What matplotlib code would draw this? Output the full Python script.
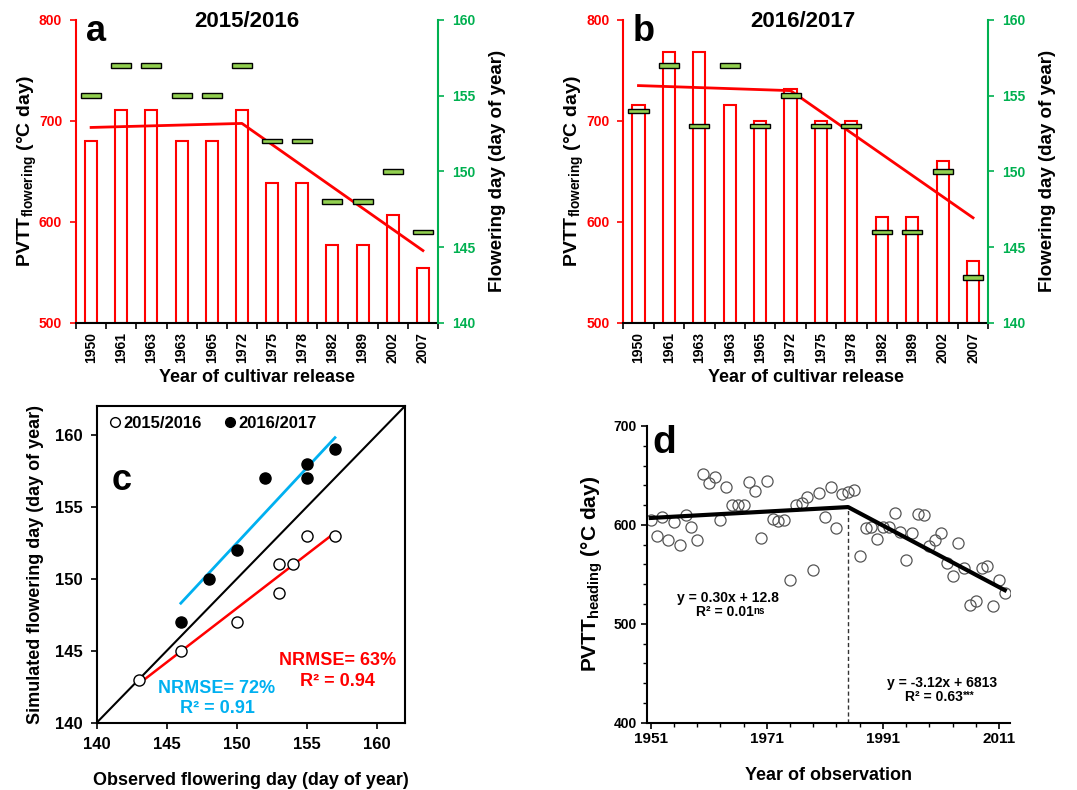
import numpy as np
import matplotlib.pyplot as plt
from matplotlib.lines import Line2D
from matplotlib.ticker import MultipleLocator

# -------------------------
# ESTILO GENERAL
# -------------------------
plt.rcParams['font.family'] = ['Liberation Sans', 'DejaVu Sans']
plt.rcParams['font.weight'] = 'bold'
plt.rcParams['axes.labelweight'] = 'bold'
plt.rcParams['mathtext.fontset'] = 'custom'
plt.rcParams['mathtext.rm'] = 'Liberation Sans'
plt.rcParams['mathtext.bf'] = 'Liberation Sans:bold'

ROJO = '#FF0000'
VERDE = '#00B050'
VERDE_CLARO = '#92D050'
AZUL = '#00B0F0'

# -------------------------
# DATOS PANELES a y b
# -------------------------
cultivares = ['1950', '1961', '1963', '1963', '1965', '1972',
              '1975', '1978', '1982', '1989', '2002', '2007']

pvtt_1516 = [680, 711, 711, 680, 680, 711, 638, 638, 577, 577, 607, 554]
floracion_1516 = [155, 157, 157, 155, 155, 157, 152, 152, 148, 148, 150, 146]
tend_idx_1516 = [0, 5, 11]
tend_val_1516 = [693.5, 697.5, 571.5]

pvtt_1617 = [716, 768, 768, 716, 700, 732, 700, 700, 605, 605, 660, 561]
floracion_1617 = [154, 157, 153, 157, 153, 155, 153, 153, 146, 146, 150, 143]
tend_idx_1617 = [0, 5, 11]
tend_val_1617 = [735, 730, 604]

# -------------------------
# DATOS PANEL c
# -------------------------
obs_1516 = [143, 146, 150, 153, 153, 154, 155, 157]
sim_1516 = [143, 145, 147, 149, 151, 151, 153, 153]
obs_1617 = [146, 148, 150, 152, 155, 155, 157]
sim_1617 = [147, 150, 152, 157, 157, 158, 159]
linea_1516_x = [143, 157]
linea_1516_y = [142.7, 153.2]
linea_1617_x = [146, 157]
linea_1617_y = [148.3, 159.8]
linea_11 = [140, 162]

# -------------------------
# DATOS PANEL d
# -------------------------
anios = list(range(1951, 2013))
pvtt_espigado = [605, 589, 608, 585, 603, 580, 610, 598, 585, 651,
                 642, 648, 605, 638, 620, 620, 620, 643, 634, 587,
                 644, 606, 604, 605, 544, 620, 622, 628, 554, 632,
                 608, 638, 597, 631, 633, 635, 569, 597, 598, 586,
                 598, 598, 612, 593, 564, 592, 611, 610, 579, 585,
                 592, 561, 548, 582, 556, 519, 523, 556, 558, 518,
                 544, 531]
tend_d_x = [1951, 1985, 2012]
tend_d_y = [607, 618, 534]


def panel_barras(pos, titulo, letra, pvtt, flor, t_idx, t_val, x_titulo):
    ax = fig.add_axes(pos)
    x = np.arange(len(cultivares))
    ax.bar(x, np.array(pvtt) - 500, bottom=500, width=0.4, color='white',
           edgecolor=ROJO, linewidth=1.5, zorder=2)
    ax.plot(t_idx, t_val, color=ROJO, linewidth=2.0, zorder=3)
    ax.set_ylim(500, 800)
    ax.set_xlim(-0.5, len(cultivares) - 0.5)
    ax.set_yticks([500, 600, 700, 800])
    ax.tick_params(axis='y', colors=ROJO, length=4, width=1.2, pad=6, labelsize=10)
    ax.set_xticks(np.arange(-0.5, len(cultivares), 1))
    ax.set_xticklabels([])
    ax.set_xticks(x, minor=True)
    ax.set_xticklabels(cultivares, minor=True, rotation=90, fontsize=10)
    ax.tick_params(axis='x', which='major', length=4, width=1.2, color='black')
    ax.tick_params(axis='x', which='minor', length=0, pad=7)
    for lado in ['top', 'right']:
        ax.spines[lado].set_visible(False)
    ax.spines['left'].set_color(ROJO)
    ax.spines['left'].set_linewidth(1.5)
    ax.spines['bottom'].set_linewidth(1.5)
    ax.set_ylabel('PVTT$_{\\mathregular{flowering}}$ (°C day)', fontsize=14, labelpad=0)
    ax.set_xlabel('Year of cultivar release', fontsize=13, labelpad=4)

    ax2 = ax.twinx()
    ax2.bar(x, 0.3, bottom=np.array(flor) - 0.15, width=0.66, color=VERDE_CLARO,
            edgecolor='black', linewidth=1.0, zorder=4)
    ax2.set_ylim(140, 160)
    ax2.set_yticks([140, 145, 150, 155, 160])
    ax2.tick_params(axis='y', colors=VERDE, length=4, width=1.2, pad=6, labelsize=10)
    for lado in ['top', 'left', 'bottom']:
        ax2.spines[lado].set_visible(False)
    ax2.spines['right'].set_color(VERDE)
    ax2.spines['right'].set_linewidth(1.5)
    ax2.set_ylabel('Flowering day (day of year)', fontsize=13.5, labelpad=10)

    ax.text(x_titulo, 0.995, titulo, transform=ax.transAxes, ha='center',
            va='center', fontsize=16)
    ax2.text(0.055, 0.963, letra, transform=ax.transAxes, ha='center',
             va='center', fontsize=26)
    return ax


def texto_con_super(ax, x, y, texto, sup):
    # texto centrado con un superindice pequeño a la derecha
    t = ax.text(x, y, texto, transform=ax.transAxes, ha='center', va='center', fontsize=10)
    ax.annotate(sup, xy=(1.0, 0.92), xycoords=t, ha='left', va='top', fontsize=7)


fig = plt.figure(figsize=(10.77, 7.9), dpi=100)

# -------------------------
# PANELES a y b
# -------------------------
panel_barras([0.0706, 0.5915, 0.3361, 0.3832], '2015/2016', 'a',
             pvtt_1516, floracion_1516, tend_idx_1516, tend_val_1516, 0.472)
panel_barras([0.5787, 0.5915, 0.3389, 0.3832], '2016/2017', 'b',
             pvtt_1617, floracion_1617, tend_idx_1617, tend_val_1617, 0.492)

# -------------------------
# PANEL c
# -------------------------
axc = fig.add_axes([0.0898, 0.0852, 0.2863, 0.4009])
axc.plot(linea_11, linea_11, color='black', linewidth=1.5, zorder=1)
axc.plot(linea_1617_x, linea_1617_y, color=AZUL, linewidth=2.0, zorder=2)
axc.plot(linea_1516_x, linea_1516_y, color=ROJO, linewidth=1.8, zorder=2)
axc.plot(obs_1516, sim_1516, 'o', mfc='white', mec='black', ms=8, mew=1.0, zorder=3)
axc.plot(obs_1617, sim_1617, 'o', mfc='black', mec='black', ms=8, zorder=3)
axc.set_xlim(140, 162)
axc.set_ylim(140, 162)
axc.set_xticks([140, 145, 150, 155, 160])
axc.set_yticks([140, 145, 150, 155, 160])
axc.tick_params(length=4, width=1.2, labelsize=12, pad=6)
for lado in axc.spines.values():
    lado.set_linewidth(1.5)
axc.set_xlabel('Observed flowering day (day of year)', fontsize=13, labelpad=15)
axc.set_ylabel('Simulated flowering day (day of year)', fontsize=13, labelpad=8)
axc.text(0.081, 0.766, 'c', transform=axc.transAxes, ha='center', va='center', fontsize=26)
axc.text(0.39, 0.108, 'NRMSE= 72%', transform=axc.transAxes, ha='center',
         va='center', fontsize=13, color=AZUL)
axc.text(0.39, 0.046, 'R² = 0.91', transform=axc.transAxes, ha='center',
         va='center', fontsize=13, color=AZUL)
axc.text(0.78, 0.197, 'NRMSE= 63%', transform=axc.transAxes, ha='center',
         va='center', fontsize=13, color=ROJO)
axc.text(0.78, 0.131, 'R² = 0.94', transform=axc.transAxes, ha='center',
         va='center', fontsize=13, color=ROJO)
manijas = [Line2D([], [], marker='o', ls='', mfc='white', mec='black', ms=7),
           Line2D([], [], marker='o', ls='', mfc='black', mec='black', ms=7)]
axc.legend(manijas, ['2015/2016', '2016/2017'], loc='upper left', ncol=2,
           frameon=False, fontsize=12, handletextpad=0.0, columnspacing=1.2,
           borderaxespad=0.2, handlelength=1.0, bbox_to_anchor=(0.0, 1.0))

# -------------------------
# PANEL d
# -------------------------
axd = fig.add_axes([0.6005, 0.0852, 0.3373, 0.3756])
axd.plot(anios, pvtt_espigado, 'o', mfc='none', mec='#555555', ms=8, mew=0.9, zorder=2)
axd.plot(tend_d_x, tend_d_y, color='black', linewidth=3, zorder=3)
axd.plot([tend_d_x[1], tend_d_x[1]], [400, tend_d_y[1]], color='#333333',
         linewidth=1.0, linestyle=(0, (3, 2)), zorder=1)
axd.set_xlim(1950.3, 2012.9)
axd.set_ylim(400, 700)
axd.set_xticks([1951, 1971, 1991, 2011])
axd.xaxis.set_minor_locator(plt.FixedLocator(np.arange(1951, 2013, 4)))
axd.set_yticks([400, 500, 600, 700])
axd.yaxis.set_minor_locator(MultipleLocator(20))
axd.tick_params(which='major', length=4, width=1.2, pad=3)
axd.tick_params(axis='x', labelsize=11)
axd.tick_params(axis='y', labelsize=10)
axd.tick_params(which='minor', length=3, width=1.0)
for lado in ['top', 'right']:
    axd.spines[lado].set_visible(False)
for lado in ['left', 'bottom']:
    axd.spines[lado].set_linewidth(1.5)
axd.set_xlabel('Year of observation', fontsize=13, labelpad=15)
axd.set_ylabel('PVTT$_{\\mathregular{heading}}$ (°C day)', fontsize=15, labelpad=6)
axd.text(0.048, 0.943, 'd', transform=axd.transAxes, ha='center', va='center', fontsize=28)
axd.text(0.224, 0.42, 'y = 0.30x + 12.8', transform=axd.transAxes, ha='center',
         va='center', fontsize=10)
texto_con_super(axd, 0.215, 0.373, 'R² = 0.01', 'ns')
axd.text(0.813, 0.134, 'y = -3.12x + 6813', transform=axd.transAxes, ha='center',
         va='center', fontsize=10)
texto_con_super(axd, 0.79, 0.087, 'R² = 0.63', '***')

plt.savefig('out.png', dpi=100)
